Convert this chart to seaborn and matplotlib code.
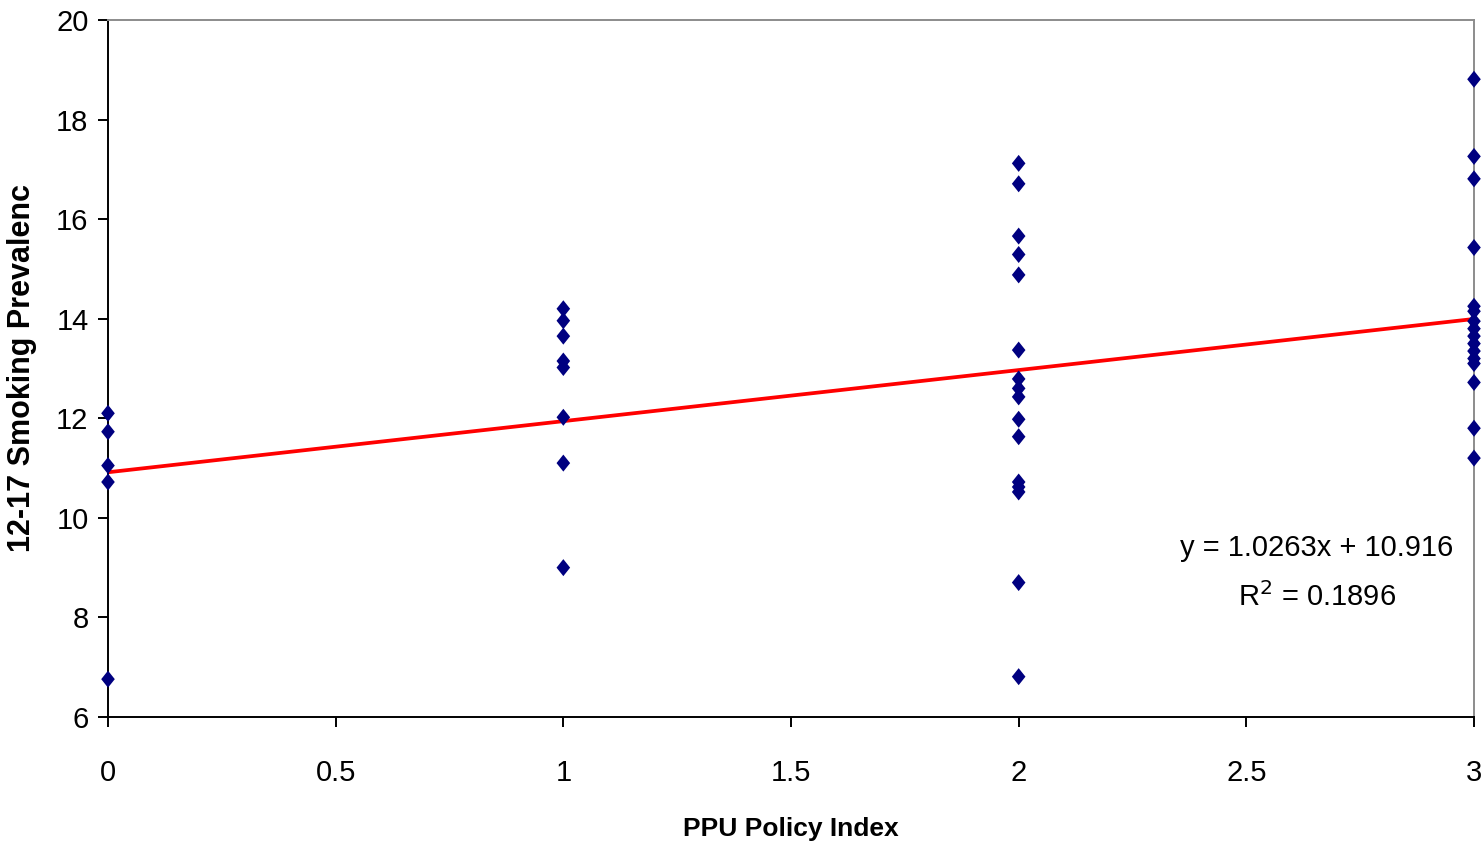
import numpy as np
import pandas as pd
import matplotlib
matplotlib.use("Agg")
import matplotlib.pyplot as plt
import seaborn as sns

# PPU policy index per state and youth (12-17) smoking prevalence
index_0 = [12.1, 11.73, 11.05, 10.72, 6.76]
index_1 = [14.2, 13.96, 13.65, 13.15, 13.02, 12.02, 11.1, 9.0]
index_2 = [17.12, 16.71, 15.66, 15.29, 14.88, 13.37, 12.79, 12.60, 12.43,
           11.98, 11.63, 10.72, 10.62, 10.52, 8.70, 6.81]
index_3 = [18.81, 17.26, 16.81, 15.43, 14.25, 14.15, 13.95, 13.8, 13.65,
           13.5, 13.35, 13.2, 13.1, 12.72, 11.8, 11.2]

# Linear trendline reported on the chart
slope = 1.0263
intercept = 10.916
r_squared = 0.1896

x_ticks = [0, 0.5, 1, 1.5, 2, 2.5, 3]
x_tick_labels = ["0", "0.5", "1", "1.5", "2", "2.5", "3"]
y_ticks = [6, 8, 10, 12, 14, 16, 18, 20]

groups = [(0, index_0), (1, index_1), (2, index_2), (3, index_3)]
df = pd.DataFrame(
    [(ix, v) for ix, vals in groups for v in vals],
    columns=["PPU Policy Index", "Prevalence"],
)

trend_x = np.array([0.0, 3.0])
trend = pd.DataFrame({"x": trend_x, "y": slope * trend_x + intercept})

sns.set_style("white")
plt.rcParams["font.family"] = ["Liberation Sans", "DejaVu Sans"]
plt.rcParams["text.color"] = "black"
plt.rcParams["axes.labelcolor"] = "black"

fig = plt.figure(figsize=(14.83, 8.47), dpi=100)
ax = fig.add_axes([108 / 1483, 1 - 717 / 847, (1474 - 108) / 1483, (717 - 20) / 847])

diamond = [(0, 1), (0.8, 0), (0, -1), (-0.8, 0), (0, 1)]
sns.lineplot(data=trend, x="x", y="y", ax=ax, color="#ff0000", linewidth=2.7, zorder=2)
sns.scatterplot(data=df, x="PPU Policy Index", y="Prevalence", ax=ax,
                marker=diamond, s=150, color="#000080", edgecolor="none",
                zorder=3, clip_on=False)

ax.set_xlim(0, 3)
ax.set_ylim(6, 20)
ax.set_xticks(x_ticks)
ax.set_xticklabels(x_tick_labels)
ax.set_yticks(y_ticks)

for side in ("left", "bottom"):
    ax.spines[side].set_color("black")
    ax.spines[side].set_linewidth(1.4)
for side in ("top", "right"):
    ax.spines[side].set_color("#8c8c8c")
    ax.spines[side].set_linewidth(1.4)

ax.tick_params(axis="x", direction="out", length=7, width=1.4, pad=23,
               labelsize=21, colors="black", bottom=True)
ax.tick_params(axis="y", direction="out", length=7, width=1.4, pad=7,
               labelsize=21, colors="black", left=True)

ax.set_xlabel("PPU Policy Index", fontsize=19, fontweight="bold", labelpad=22)
ax.set_ylabel("12-17 Smoking Prevalenc", fontsize=22, fontweight="bold", labelpad=14)

ax.text(2.655, 9.4, f"y = {slope}x + {intercept}", fontsize=21,
        ha="center", va="center")
ax.text(2.655, 8.4, f"R$^2$ = {r_squared}", fontsize=21,
        ha="center", va="center")

fig.savefig("out.png", dpi=100)
